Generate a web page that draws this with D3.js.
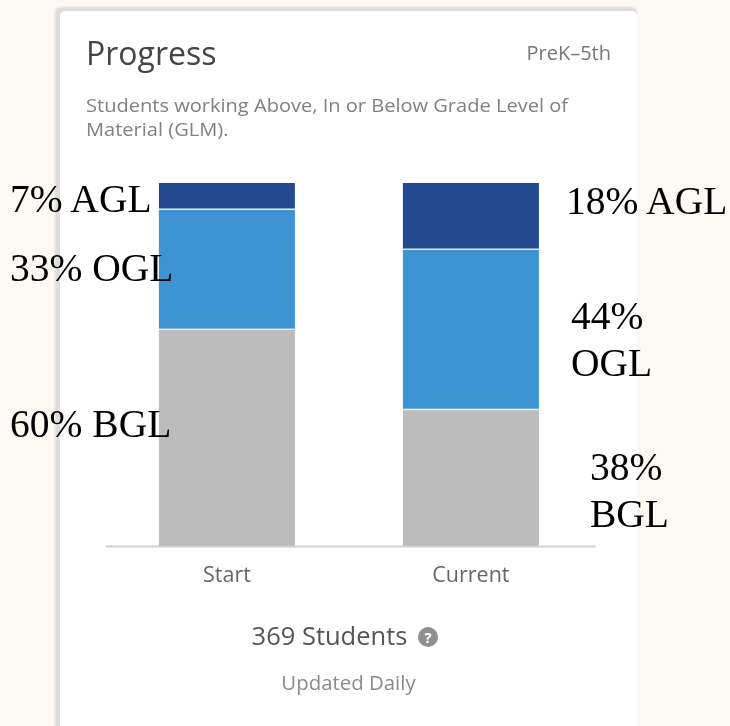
<!DOCTYPE html>
<html>
<head>
<meta charset="utf-8">
<script src="https://cdn.jsdelivr.net/npm/d3@7"></script>
<style>
    html, body { margin: 0; padding: 0; background: #fcf8f3; }
    svg { display: block; }
</style>
</head>
<body>
<div id="chart"></div>
<script>
var categories = ['Start', 'Current']
var levels = ['BGL', 'OGL', 'AGL']
var bglValues = [60, 38]
var oglValues = [33, 44]
var aglValues = [7, 18]
var levelColors = ['#bcbcbc', '#3e93d3', '#234a8e']
var subtitleLines = ['Students working Above, In or Below Grade Level of', 'Material (GLM).']
// notes typed on top of the screenshot
var noteLines = [
    ['7% AGL'],
    ['33% OGL'],
    ['60% BGL'],
    ['18% AGL'],
    ['44%', 'OGL'],
    ['38%', 'BGL']
]
var noteX = [10, 10, 10, 566, 571, 590]
var noteY = [212, 281, 437, 214, 329, 480]

var width = 730
var height = 726
var sansFont = '"Open Sans", sans-serif'
var serifFont = '"Liberation Serif", serif'

var svg = d3.select('#chart').append('svg')
    .attr('width', width)
    .attr('height', height)

var defs = svg.append('defs')
var blur = defs.append('filter').attr('id', 'soft')
    .attr('x', '-10%').attr('y', '-10%').attr('width', '120%').attr('height', '120%')
blur.append('feGaussianBlur').attr('stdDeviation', 1)
var textBlur = defs.append('filter').attr('id', 'textSoft')
    .attr('x', '-10%').attr('y', '-30%').attr('width', '120%').attr('height', '160%')
textBlur.append('feGaussianBlur').attr('stdDeviation', 0.45)

// card
svg.append('rect')
    .attr('x', 55)
    .attr('y', 7)
    .attr('width', 582)
    .attr('height', 760)
    .attr('rx', 6)
    .attr('fill', '#dcdcdc')
    .attr('filter', 'url(#soft)')
svg.append('rect')
    .attr('x', 637)
    .attr('y', 14)
    .attr('width', 10)
    .attr('height', 712)
    .attr('fill', '#fcf8f3')
svg.append('rect')
    .attr('x', 60)
    .attr('y', 11)
    .attr('width', 577)
    .attr('height', 760)
    .attr('rx', 5)
    .attr('fill', '#fff')

var cardText = svg.append('g').attr('filter', 'url(#textSoft)')
cardText.append('text')
    .attr('x', 86)
    .attr('y', 64.5)
    .attr('font-family', sansFont)
    .attr('font-size', 32)
    .attr('fill', '#444')
    .text('Progress')
cardText.append('text')
    .attr('x', 611)
    .attr('y', 60)
    .attr('text-anchor', 'end')
    .attr('font-family', sansFont)
    .attr('font-size', 20)
    .attr('fill', '#777')
    .text('PreK–5th')
// the screenshot is stretched sideways, so these lines are too
cardText.selectAll('text.sub')
    .data(subtitleLines)
    .enter()
    .append('text')
    .attr('class', 'sub')
    .attr('transform', function (d, i) { return 'translate(86,' + (112 + i * 24) + ') scale(1.14,1)' })
    .attr('font-family', sansFont)
    .attr('font-size', 17.6)
    .attr('fill', '#808080')
    .text(function (d) { return d })

// scales
var X = d3.scaleBand()
    .domain(categories)
    .range([105, 595])
    .paddingInner(0.4426)
    .paddingOuter(0.2254)
    .align(0.49)
var Y = d3.scaleLinear().domain([0, 100]).range([547, 183])

var rows = categories.map(function (c, i) {
    return { category: c, BGL: bglValues[i], OGL: oglValues[i], AGL: aglValues[i] }
})
var stacked = d3.stack().keys(levels)(rows)

var layers = svg.append('g')
    .selectAll('g')
    .data(stacked)
    .enter()
    .append('g')
    .attr('fill', function (d, i) { return levelColors[i] })
layers.selectAll('rect')
    .data(function (d) { return d })
    .enter()
    .append('rect')
    .attr('x', function (d) { return X(d.data.category) })
    .attr('y', function (d) { return Y(d[1]) })
    .attr('width', X.bandwidth())
    .attr('height', function (d) { return Y(d[0]) - Y(d[1]) })
// thin white gaps between segments
layers.filter(function (d, i) { return i < levels.length - 1 })
    .selectAll('line')
    .data(function (d) { return d })
    .enter()
    .append('line')
    .attr('x1', function (d) { return X(d.data.category) })
    .attr('x2', function (d) { return X(d.data.category) + X.bandwidth() })
    .attr('y1', function (d) { return Y(d[1]) + 0.5 })
    .attr('y2', function (d) { return Y(d[1]) + 0.5 })
    .attr('stroke', '#e4f1fa')
    .attr('stroke-width', 2)

var xAxis = svg.append('g')
    .attr('transform', 'translate(0,546)')
    .call(d3.axisBottom(X).tickSize(0).tickPadding(21))
xAxis.select('.domain')
    .attr('stroke', '#cfcfcf')
    .attr('stroke-width', 2)
xAxis.selectAll('text')
    .attr('font-family', sansFont)
    .attr('font-size', 21.5)
    .attr('fill', '#666')
    .attr('filter', 'url(#textSoft)')

// footer
cardText.append('text')
    .attr('x', 329.5)
    .attr('y', 645)
    .attr('text-anchor', 'middle')
    .attr('font-family', sansFont)
    .attr('font-size', 25.5)
    .attr('fill', '#555')
    .text('369 Students')
cardText.append('circle')
    .attr('cx', 428)
    .attr('cy', 637)
    .attr('r', 10)
    .attr('fill', '#8f8f8f')
cardText.append('text')
    .attr('x', 428)
    .attr('y', 643)
    .attr('text-anchor', 'middle')
    .attr('font-family', sansFont)
    .attr('font-size', 15)
    .attr('font-weight', 700)
    .attr('fill', '#fff')
    .text('?')
cardText.append('text')
    .attr('x', 348.5)
    .attr('y', 690)
    .attr('text-anchor', 'middle')
    .attr('font-family', sansFont)
    .attr('font-size', 20.4)
    .attr('fill', '#8a8a8a')
    .text('Updated Daily')

// serif notes
var notes = svg.append('g')
    .selectAll('text')
    .data(noteLines)
    .enter()
    .append('text')
    .attr('font-family', serifFont)
    .attr('font-size', 39.5)
    .attr('fill', '#000')
notes.selectAll('tspan')
    .data(function (d, i) {
        return d.map(function (t, j) { return { text: t, x: noteX[i], y: noteY[i] + j * 47 } })
    })
    .enter()
    .append('tspan')
    .attr('x', function (d) { return d.x })
    .attr('y', function (d) { return d.y })
    .text(function (d) { return d.text })
</script>
</body>
</html>
